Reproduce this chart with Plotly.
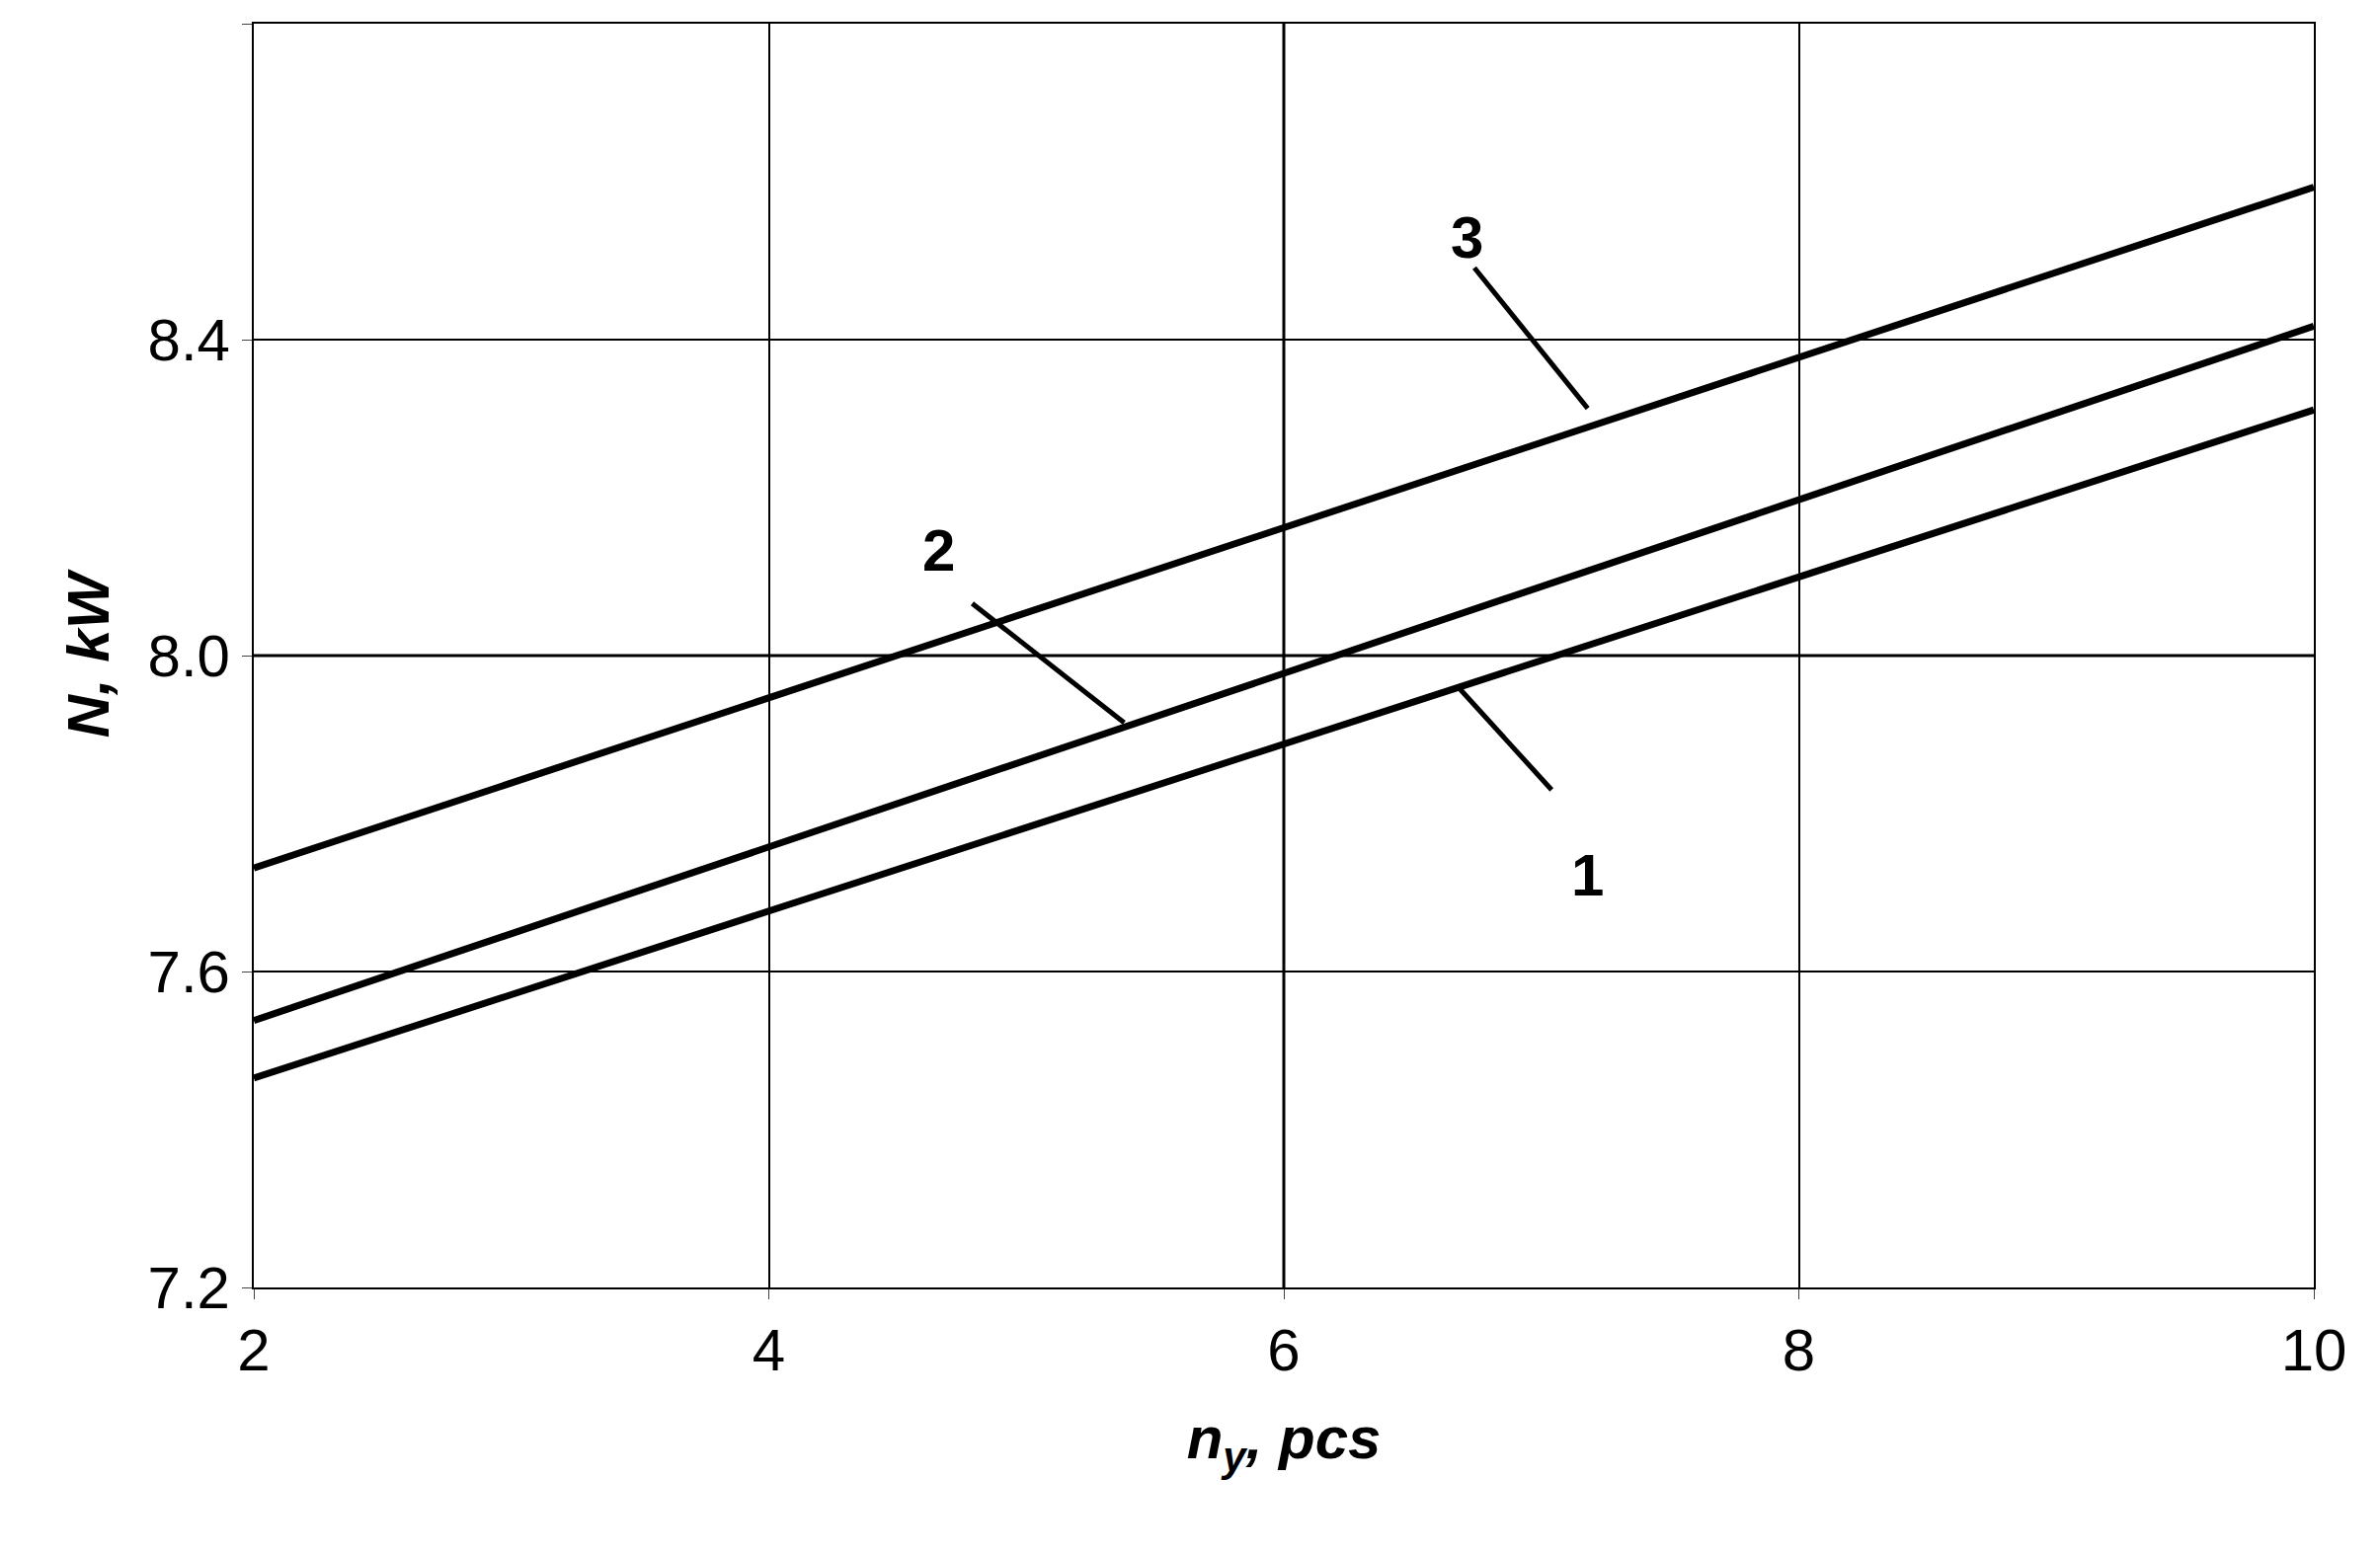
import plotly.graph_objects as go

# data
x_vals = [2, 10]
line1 = [7.465, 8.311]
line2 = [7.538, 8.417]
line3 = [7.731, 8.593]

# curve labels: (text, label x, label y, leader x0, y0, x1, y1)
labels = [
    ("3", 6.71, 8.53, 6.74, 8.491, 7.18, 8.313),
    ("2", 4.66, 8.133, 4.79, 8.066, 5.38, 7.915),
    ("1", 7.18, 7.722, 6.68, 7.959, 7.04, 7.830),
]

fig = go.Figure()
for ys in (line1, line2, line3):
    fig.add_trace(go.Scatter(x=x_vals, y=ys, mode="lines",
                             line=dict(color="black", width=7), showlegend=False))

for txt, lx, ly, x0, y0, x1, y1 in labels:
    fig.add_annotation(x=lx, y=ly, text="<b>%s</b>" % txt, showarrow=False,
                       font=dict(size=60, color="black", family="Liberation Sans"))
    fig.add_shape(type="line", x0=x0, y0=y0, x1=x1, y1=y1,
                  line=dict(color="black", width=5))

# heavier grid lines at x=6 and y=8.0
fig.add_shape(type="line", x0=6, x1=6, y0=7.2, y1=8.8, line=dict(color="black", width=3), layer="below")
fig.add_shape(type="line", x0=2, x1=10, y0=8.0, y1=8.0, line=dict(color="black", width=3), layer="below")

fig.update_layout(
    width=2410, height=1576,
    plot_bgcolor="white", paper_bgcolor="white",
    margin=dict(l=249, r=75, t=16, b=280),
    font=dict(family="Liberation Sans", color="black"),
    xaxis=dict(range=[2, 10], tickvals=[2, 4, 6, 8, 10], showgrid=True,
               gridcolor="black", gridwidth=1.5, zeroline=False,
               showline=True, linecolor="black", linewidth=2, mirror=True,
               ticks="outside", ticklen=10, tickfont=dict(size=60),
               title=dict(text="<b><i>n<sub>y</sub>, pcs</i></b>", font=dict(size=60), standoff=35)),
    yaxis=dict(range=[7.2, 8.8], tickvals=[7.2, 7.6, 8.0, 8.4, 8.8],
               ticktext=["7.2", "7.6", "8.0", "8.4", "8.8"], showgrid=True,
               gridcolor="black", gridwidth=1.5, zeroline=False,
               showline=True, linecolor="black", linewidth=2, mirror=True,
               ticks="outside", ticklen=10, tickfont=dict(size=60),
               title=dict(text="<b><i>N, kW</i></b>", font=dict(size=60), standoff=20)),
)

fig.write_html("out.html")
